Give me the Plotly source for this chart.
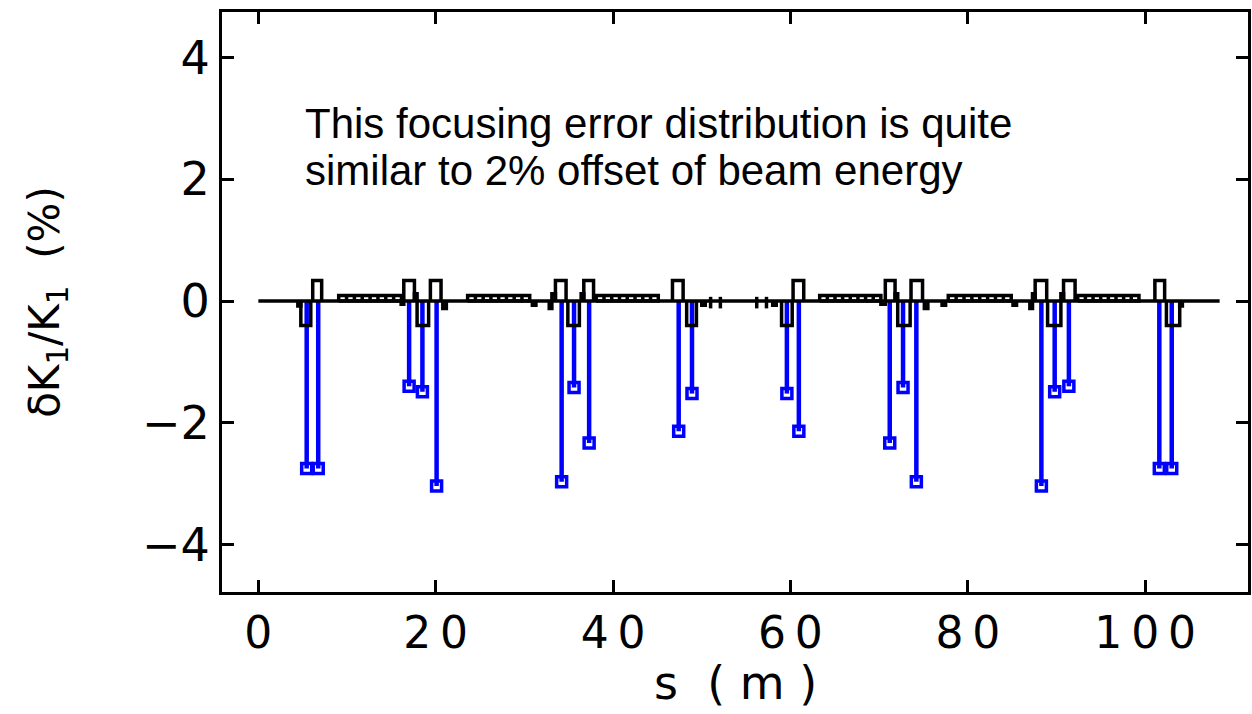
import plotly.graph_objects as go

# ---- data ----
err_s = [5.45, 6.75, 17.0, 18.5, 20.1, 34.2, 35.6, 37.3, 47.4, 48.9,
         59.6, 60.95, 71.2, 72.7, 74.2, 88.3, 89.8, 91.4, 101.6, 103.0]
err_val = [-2.75, -2.75, -1.40, -1.49, -3.04, -2.97, -1.42, -2.33, -2.14, -1.52,
           -1.52, -2.14, -2.33, -1.42, -2.97, -3.04, -1.49, -1.40, -2.75, -2.75]

quad_start = [4.79, 6.13, 16.4, 17.9, 19.4, 33.5, 34.9, 36.7, 46.7, 48.3,
              59.0, 60.3, 70.7, 72.1, 73.6, 87.6, 89.0, 90.8, 101.1, 102.4]
quad_end = [5.91, 7.14, 17.6, 19.2, 20.6, 34.7, 36.2, 37.8, 47.9, 49.4,
            60.2, 61.5, 71.8, 73.5, 74.9, 88.9, 90.5, 92.1, 102.2, 103.9]
quad_h = [-0.40, 0.34, 0.34, -0.40, 0.34, 0.34, -0.40, 0.34, 0.34, -0.40,
          -0.40, 0.34, 0.34, -0.40, 0.34, 0.34, -0.40, 0.34, 0.34, -0.40]

dip_start = [9.06, 23.6, 38.1, 63.3, 77.8, 92.4]
dip_end = [16.14, 30.6, 45.1, 70.2, 84.9, 99.3]
dip_h = 0.09

sext_start = [4.45, 16.1, 17.6, 20.8, 30.9, 32.8, 33.1, 36.4, 50.0, 58.0, 70.2, 71.8, 75.1, 77.1, 85.1, 87.0, 87.3, 90.5, 103.9]
sext_end = [4.79, 16.4, 17.9, 21.2, 31.3, 33.1, 33.5, 36.7, 50.4, 58.4, 70.7, 72.1, 75.5, 77.5, 85.5, 87.3, 87.6, 90.8, 104.2]
sext_h = [-0.08, -0.05, 0.12, -0.12, -0.07, -0.12, 0.12, 0.12, -0.07, -0.07, -0.05, 0.12, -0.12, -0.07, -0.07, -0.12, 0.12, 0.12, -0.08]

bpm_s = [51.0, 52.1, 56.2, 57.3]
bpm_lo, bpm_hi = -0.12, 0.07

ring_start, ring_end = 0.0, 108.4

x_ticks = [0, 20, 40, 60, 80, 100]
x_ticktext = ["0", "2\u20090", "4\u20090", "6\u20090", "8\u20090", "1\u20090\u20090"]
y_ticks = [-4, -2, 0, 2, 4]
y_ticktext = ["\u22124", "\u22122", "0", "2", "4"]
x_title = "s  ( m )"
y_title = "\u03b4K<sub>1</sub>/K<sub>1</sub>  (%)"
note_lines = ["This focusing error distribution is quite",
              "similar to 2% offset of beam energy"]
note_y = [2.92, 2.15]

fig = go.Figure()

# blue error stems
sx, sy = [], []
for s, v in zip(err_s, err_val):
    sx += [s, s, None]
    sy += [0, v, None]
fig.add_trace(go.Scatter(x=sx, y=sy, mode="lines",
                         line=dict(color="#0000ff", width=4.5), hoverinfo="skip"))
fig.add_trace(go.Scatter(x=err_s, y=err_val, mode="markers",
                         marker=dict(symbol="square-open", size=10, color="#0000ff",
                                     line=dict(width=3.5, color="#0000ff"))))

# black lattice schematic
lx, ly = [ring_start, ring_end, None], [0, 0, None]
for a, b, h in zip(quad_start, quad_end, quad_h):
    lx += [a, a, b, b, None]
    ly += [0, h, h, 0, None]
for a, b, h in zip(sext_start, sext_end, sext_h):
    lx += [a, a, b, b, None]
    ly += [0, h, h, 0, None]
for s in bpm_s:
    lx += [s, s, None]
    ly += [bpm_lo, bpm_hi, None]
fig.add_trace(go.Scatter(x=lx, y=ly, mode="lines",
                         line=dict(color="black", width=3.5), hoverinfo="skip"))

dx, dy = [], []
for a, b in zip(dip_start, dip_end):
    dx += [a, a, b, b, a, None]
    dy += [0, dip_h, dip_h, 0, 0, None]
    n = 8
    for k in range(1, n):
        xx = a + (b - a) * k / n
        dx += [xx, xx, None]
        dy += [0, dip_h, None]
fig.add_trace(go.Scatter(x=dx, y=dy, mode="lines",
                         line=dict(color="black", width=3.5), hoverinfo="skip"))

for txt, yy in zip(note_lines, note_y):
    fig.add_annotation(x=5.0, y=yy, xref="x", yref="y", text=txt, showarrow=False,
                       xanchor="left", yanchor="middle",
                       font=dict(family="Liberation Sans", size=42, color="black"))

# x-axis title as a paper-positioned annotation
fig.add_annotation(x=0.5, y=-0.205, xref="paper", yref="paper", text=x_title,
                   showarrow=False, xanchor="center", yanchor="bottom", borderpad=0,
                   font=dict(family="DejaVu Sans", size=46, color="black"))

fig.update_xaxes(range=[-4.1, 111.6], tickvals=x_ticks, ticktext=x_ticktext,
                 ticks="inside", ticklen=12,
                 tickwidth=3, tickcolor="black", showline=True, linewidth=3,
                 linecolor="black", mirror="allticks", showgrid=False, zeroline=False,
                 tickfont=dict(family="DejaVu Sans", size=44, color="black"))
fig.update_yaxes(range=[-4.78, 4.75], tickvals=y_ticks, ticktext=y_ticktext,
                 ticks="inside", ticklen=12,
                 tickwidth=3, tickcolor="black", showline=True, linewidth=3,
                 linecolor="black", mirror="allticks", showgrid=False, zeroline=False,
                 tickfont=dict(family="DejaVu Sans", size=46, color="black"),
                 title=dict(text=y_title,
                            font=dict(family="DejaVu Sans", size=42, color="black"),
                            standoff=70))
fig.update_layout(width=1252, height=714, margin=dict(l=222, r=1, t=12, b=122),
                  paper_bgcolor="white", plot_bgcolor="white", showlegend=False)

fig.write_html("out.html")
